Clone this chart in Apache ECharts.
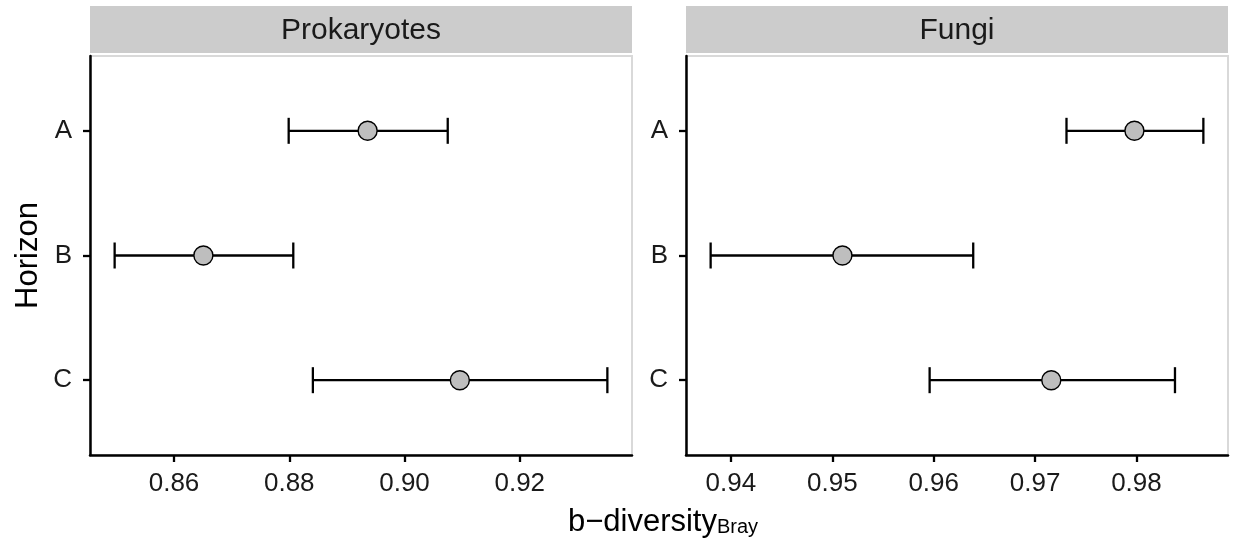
<!DOCTYPE html>
<html>
<head>
<meta charset="utf-8">
<script src="https://cdn.jsdelivr.net/npm/echarts@6.0.0/dist/echarts.min.js"></script>
<style>
  html, body { margin: 0; padding: 0; background: #fff; }
  #main { width: 1233px; height: 546px; }
</style>
</head>
<body>
<div id="main"></div>
<script>
// horizons, top to bottom
var horizons = ["A", "B", "C"];

// Prokaryotes: mean and error bar ends
var prokMean = [0.8936, 0.8651, 0.9096];
var prokLow = [0.8799, 0.8497, 0.8841];
var prokHigh = [0.9075, 0.8807, 0.9352];

// Fungi
var fungiMean = [0.9798, 0.9510, 0.9716];
var fungiLow = [0.9731, 0.9380, 0.9596];
var fungiHigh = [0.9866, 0.9639, 0.9838];

// tick labels of each panel
var prokTicks = [0.86, 0.88, 0.90, 0.92];
var fungiTicks = [0.94, 0.95, 0.96, 0.97, 0.98];

var panelTitles = ["Prokaryotes", "Fungi"];

var FONT = "Liberation Sans, Arial, Helvetica, sans-serif";

// ggplot style 5% expansion of data range
function expand(lo, hi) {
  var a = Math.min.apply(null, lo), b = Math.max.apply(null, hi);
  var d = (b - a) * 0.05;
  return [a - d, b + d];
}
var prokRange = expand(prokLow, prokHigh);
var fungiRange = expand(fungiLow, fungiHigh);

var myChart = echarts.init(document.getElementById("main"));

function errorBar(params, api) {
  var y = api.value(2);
  var p1 = api.coord([api.value(0), y]);
  var p2 = api.coord([api.value(1), y]);
  var h = 13;
  var st = { stroke: "#000", lineWidth: 2.3 };
  return {
    type: "group",
    children: [
      { type: "line", shape: { x1: p1[0], y1: p1[1], x2: p2[0], y2: p2[1] }, style: st },
      { type: "line", shape: { x1: p1[0], y1: p1[1] - h, x2: p1[0], y2: p1[1] + h }, style: st },
      { type: "line", shape: { x1: p2[0], y1: p2[1] - h, x2: p2[0], y2: p2[1] + h }, style: st }
    ]
  };
}

function xAxisFor(idx, range, ticks, digits) {
  return {
    type: "value",
    gridIndex: idx,
    min: range[0],
    max: range[1],
    splitLine: { show: false },
    axisLine: { show: true, onZero: false, lineStyle: { color: "#000", width: 2.5 } },
    axisTick: { show: true, length: 7, lineStyle: { color: "#000", width: 2.3 }, customValues: ticks },
    axisLabel: {
      customValues: ticks,
      formatter: function (v) { return v.toFixed(digits); },
      fontSize: 26, color: "#1a1a1a", fontFamily: FONT, margin: 16
    }
  };
}

function yAxisFor(idx, name) {
  return {
    type: "value",
    gridIndex: idx,
    min: -0.6,
    max: 2.6,
    inverse: true,
    name: name,
    nameLocation: "middle",
    nameGap: 46,
    nameTextStyle: { fontSize: 31, color: "#000", fontFamily: FONT },
    splitLine: { show: false },
    axisLine: { show: true, onZero: false, lineStyle: { color: "#000", width: 2.5 } },
    axisTick: { show: true, length: 7, lineStyle: { color: "#000", width: 2.3 }, customValues: [0, 1, 2] },
    axisLabel: {
      customValues: [0, 1, 2],
      formatter: function (v) { return horizons[Math.round(v)]; },
      fontSize: 26, color: "#1a1a1a", fontFamily: FONT, margin: 18
    }
  };
}

function points(mean) {
  return mean.map(function (m, i) { return [m, i]; });
}
function bars(lo, hi) {
  return lo.map(function (l, i) { return [l, hi[i], i]; });
}

var grids = [
  { left: 90, top: 56, width: 542, height: 399 },
  { left: 686, top: 56, width: 542, height: 399 }
];

var graphics = [];
grids.forEach(function (g, i) {
  graphics.push({
    type: "rect",
    shape: { x: g.left, y: 6, width: g.width, height: 47 },
    style: { fill: "#CCCCCC" }
  });
  graphics.push({
    type: "text",
    x: g.left + g.width / 2,
    y: 31,
    style: {
      text: panelTitles[i], fill: "#1a1a1a", fontSize: 30, fontFamily: FONT,
      align: "center", verticalAlign: "middle"
    }
  });
});
graphics.push({
  type: "text",
  x: 663,
  y: 522,
  style: {
    text: "{a|b\u2212diversity}{s|Bray}",
    align: "center",
    verticalAlign: "middle",
    rich: {
      a: { fontSize: 31, fontFamily: FONT, fill: "#000", lineHeight: 31, verticalAlign: "top", padding: [0, 0, 2, 0] },
      s: { fontSize: 20, fontFamily: FONT, fill: "#000", lineHeight: 20, verticalAlign: "bottom" }
    }
  }
});

myChart.setOption({
  animation: false,
  grid: grids.map(function (g) {
    return Object.assign({ show: true, borderColor: "#D9D9D9", borderWidth: 2, backgroundColor: "#fff" }, g);
  }),
  xAxis: [
    xAxisFor(0, prokRange, prokTicks, 2),
    xAxisFor(1, fungiRange, fungiTicks, 2)
  ],
  yAxis: [
    yAxisFor(0, "Horizon"),
    yAxisFor(1, "")
  ],
  graphic: graphics,
  series: [
    { type: "custom", xAxisIndex: 0, yAxisIndex: 0, renderItem: errorBar,
      encode: { x: [0, 1], y: 2 }, data: bars(prokLow, prokHigh), z: 2 },
    { type: "custom", xAxisIndex: 1, yAxisIndex: 1, renderItem: errorBar,
      encode: { x: [0, 1], y: 2 }, data: bars(fungiLow, fungiHigh), z: 2 },
    { type: "scatter", xAxisIndex: 0, yAxisIndex: 0, symbolSize: 19, z: 3,
      itemStyle: { color: "#BEBEBE", borderColor: "#000", borderWidth: 1.4, opacity: 1 },
      data: points(prokMean) },
    { type: "scatter", xAxisIndex: 1, yAxisIndex: 1, symbolSize: 19, z: 3,
      itemStyle: { color: "#BEBEBE", borderColor: "#000", borderWidth: 1.4, opacity: 1 },
      data: points(fungiMean) }
  ]
});
</script>
</body>
</html>
